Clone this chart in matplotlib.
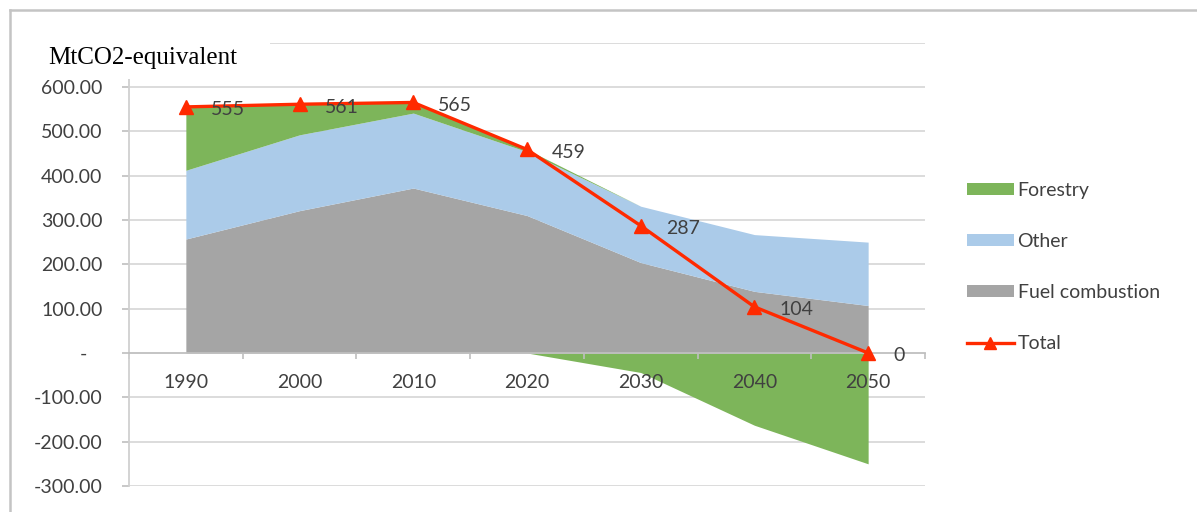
import matplotlib
matplotlib.use("Agg")
import matplotlib.pyplot as plt
from matplotlib.lines import Line2D
from matplotlib.patches import Patch, Rectangle
import numpy as np

# --- data (MtCO2-equivalent) ---
years = ["1990", "2000", "2010", "2020", "2030", "2040", "2050"]
fuel_combustion = [257, 321, 372, 310, 204, 139, 107]
other = [155, 171, 169, 144, 127, 128, 143]
forestry = [143, 69, 24, 5, -44, -163, -250]
total = [555, 561, 565, 459, 287, 104, 0]
y_ticks = [-300, -200, -100, 0, 100, 200, 300, 400, 500, 600, 700]

# colours
c_green = "#7db55a"
c_blue = "#abcbe9"
c_gray = "#a5a5a5"
c_red = "#ff2a00"
c_text = "#404040"
c_grid = "#d9d9d9"

plt.rcParams["font.family"] = ["Lato", "DejaVu Sans"]

W, H = 1197, 512
fig = plt.figure(figsize=(W / 100, H / 100), dpi=100)
ax = fig.add_axes([129 / W, 1 - 486 / H, (925 - 129) / W, (486 - 42.6) / H])

x = np.arange(len(years))
fuel = np.array(fuel_combustion, dtype=float)
oth = np.array(other, dtype=float)
fo = np.array(forestry, dtype=float)
fo_pos = np.clip(fo, 0, None)
fo_neg = np.clip(fo, None, 0)

# gridlines under the areas
for t in y_ticks:
    if t != 0:
        ax.axhline(t, color=c_grid, lw=1.3, zorder=0.2)

# stacked areas (Excel stacks negatives separately)
ax.fill_between(x, 0, fuel, color=c_gray, lw=0, zorder=1)
ax.fill_between(x, fuel, fuel + oth, color=c_blue, lw=0, zorder=1)
ax.fill_between(x, fuel + oth, fuel + oth + fo_pos, color=c_green, lw=0, zorder=1)
ax.fill_between(x, fo_neg, 0, color=c_green, lw=0, zorder=1)

# total line
ax.plot(x, total, color=c_red, lw=2.4, marker="^", ms=10.5, zorder=5)
for xi, v in zip(x, total):
    ax.annotate(f"{v}", (xi, v), xytext=(18, -2), textcoords="offset points",
                ha="left", va="center", fontsize=14, color=c_text, zorder=6)

ax.set_xlim(-0.5, len(years) - 0.5)
ax.set_ylim(-300, 700)

# y axis
ax.set_yticks(y_ticks)
ylabels = []
for t in y_ticks:
    if t == 700:
        ylabels.append("")
    elif t == 0:
        ylabels.append("-   ")
    else:
        ylabels.append(f"{t:.2f}")
ax.set_yticklabels(ylabels)
ax.tick_params(axis="y", length=5, color="#bfbfbf", width=1.2, pad=14,
               labelsize=14, labelcolor=c_text)

# category axis at zero
ax.spines["bottom"].set_position(("data", 0))
ax.spines["bottom"].set_color("#bfbfbf")
ax.spines["bottom"].set_linewidth(1.3)
ax.spines["left"].set_color("#d0d0d0")
ax.spines["left"].set_linewidth(1.3)
ax.spines["top"].set_visible(False)
ax.spines["right"].set_visible(False)
ax.set_xticks(x)
ax.set_xticklabels(years)
ax.set_xticks(np.arange(-0.5, len(years)), minor=True)
ax.tick_params(axis="x", which="major", length=0, pad=15, labelsize=14, labelcolor=c_text)
ax.tick_params(axis="x", which="minor", length=4, color="#bfbfbf", width=1.2)
ax.set_zorder(1)

# outer frame
fig.add_artist(Line2D([10 / W, 1], [1 - 10 / H, 1 - 10 / H], transform=fig.transFigure,
                      color="#c4c4c4", lw=1.8))
fig.add_artist(Line2D([10 / W, 10 / W], [0, 1 - 10 / H], transform=fig.transFigure,
                      color="#c4c4c4", lw=1.8))

# unit title box (covers top gridline)
fig.add_artist(Rectangle((14 / W, 1 - 79 / H), (270 - 14) / W, (79 - 14) / H,
                         transform=fig.transFigure, facecolor="white", edgecolor="none",
                         zorder=5))
fig.text(48 / W, 1 - 58 / H, "MtCO2-equivalent", family="Liberation Serif", fontsize=18,
         ha="left", va="center", color="black", zorder=6)

# legend
handles = [Patch(facecolor=c_green, edgecolor="none"),
           Patch(facecolor=c_blue, edgecolor="none"),
           Patch(facecolor=c_gray, edgecolor="none"),
           Line2D([], [], color=c_red, lw=2.4, marker="^", ms=8)]
labels = ["Forestry", "Other", "Fuel combustion", "Total"]
fig.legend(handles, labels, loc="upper left", bbox_to_anchor=(967 / W, 1 - 182 / H),
           frameon=False, fontsize=14, labelcolor=c_text, handlelength=2.4,
           handleheight=0.55, handletextpad=0.2, labelspacing=1.75, borderpad=0,
           borderaxespad=0)

fig.savefig("out.png", dpi=100)
